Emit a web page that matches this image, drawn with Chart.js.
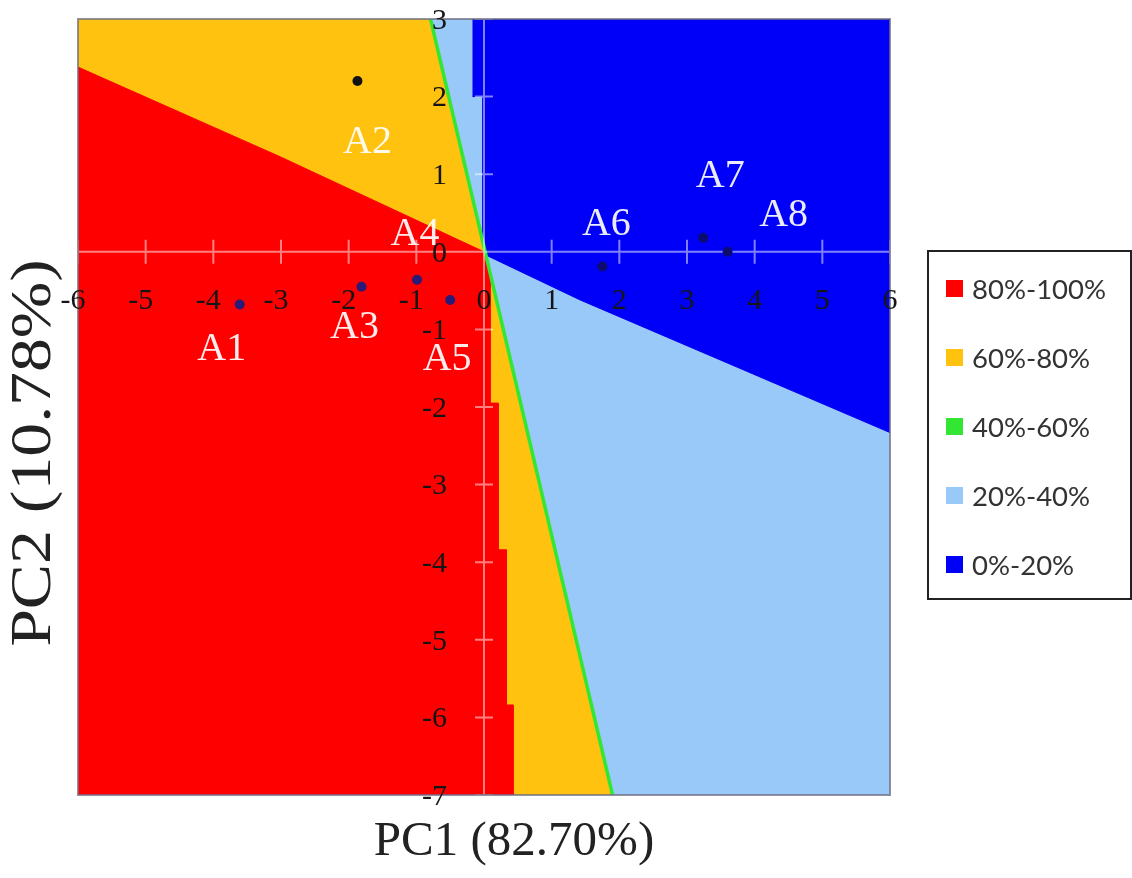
<!DOCTYPE html>
<html>
<head>
<meta charset="utf-8">
<title>PCA classification regions</title>
<script src="https://cdn.jsdelivr.net/npm/chart.js@4.4.1/dist/chart.umd.min.js"></script>
<style>
  body { margin: 0; background: #fff; }
  #wrap { position: relative; width: 1132px; height: 878px; }
  #legend { position: absolute; left: 927px; top: 250px; width: 201px; height: 344px; border: 2px solid #222;
            padding-top: 2px; box-sizing: content-box; font-family: Lato, sans-serif; font-size: 27.5px; color: #333; }
  #legend div { height: 69px; display: flex; align-items: center; }
  #legend span { display: inline-block; width: 17px; height: 17px; margin-left: 17px; margin-right: 9px; }
</style>
</head>
<body>
<div id="wrap">
  <canvas id="pca-regions"></canvas>
  <div id="legend"></div>
</div>
<script>
let xTicks = [-6, -5, -4, -3, -2, -1, 0, 1, 2, 3, 4, 5, 6];
let yTicks = [3, 2, 1, 0, -1, -2, -3, -4, -5, -6, -7];

let sampleNames = ["A1", "A2", "A3", "A4", "A5", "A6", "A7", "A8"];
let pc1Scores = [-3.61, -1.87, -1.81, -0.99, -0.50, 1.75, 3.24, 3.60];
let pc2Scores = [-0.68, 2.20, -0.45, -0.36, -0.62, -0.19, 0.18, 0.00];

// region outlines in score space [PC1, PC2]
let red80to100 = [[-6, 2.38], [-3, 1.22], [0, 0], [0.09, -0.35], [0.09, -1.95], [0.21, -1.95], [0.21, -3.84],
                  [0.33, -3.84], [0.33, -5.84], [0.43, -5.84], [0.43, -7], [-6, -7]];
let yellow60to80 = [[-6, 3], [-0.79, 3], [1.9, -7], [-6, -7]];
let green40to60 = [[-0.79, 3], [1.9, -7]];
let lightBlue20to40 = [[-0.79, 3], [6, 3], [6, -7], [1.9, -7]];
let blue0to20 = [[-0.17, 3], [6, 3], [6, -2.33], [3, -1.21], [1.42, -0.62], [0, -0.03], [-0.02, 0.05],
                 [-0.02, 2.0], [-0.17, 2.0]];

let legendLabels = ["80%-100%", "60%-80%", "40%-60%", "20%-40%", "0%-20%"];

// styling only
let regionColors = ["#ff0000", "#ffc20e", "#33e633", "#99c9f8", "#0000f8"];
let sampleColors = ["#2b1a78", "#111111", "#2b1a78", "#2b1a78", "#2b1a78", "#0c0c70", "#0c0c70", "#0c0c70"];
let labelOffsets = [[-18, 45], [10, 61], [-7, 41], [-2, -45], [-3, 60], [4, -42], [17, -61], [56, -36]];

const toXY = pts => pts.map(p => ({x: p[0], y: p[1]}));

function region(label, pts, color, order) {
  return {
    label: label,
    data: toXY(pts),
    showLine: true,
    fill: 'shape',
    backgroundColor: color,
    borderColor: color,
    borderWidth: 1,
    pointRadius: 0,
    order: order
  };
}

const pcaDecor = {
  id: 'pcaDecor',
  afterDatasetDraw(chart, args) {
    if (args.index !== 2) return; // zero axes go over the regions, under the samples
    const {ctx, chartArea: a, scales: {x, y}} = chart;
    const x0 = x.getPixelForValue(0), y0 = y.getPixelForValue(0);
    ctx.save();
    ctx.strokeStyle = 'rgba(255,255,255,0.5)';
    ctx.lineWidth = 2;
    ctx.beginPath();
    ctx.moveTo(a.left, y0); ctx.lineTo(a.right, y0);
    ctx.moveTo(x0, a.top); ctx.lineTo(x0, a.bottom);
    xTicks.forEach(v => { const px = x.getPixelForValue(v); ctx.moveTo(px, y0 - 12); ctx.lineTo(px, y0 + 12); });
    yTicks.forEach(v => { const py = y.getPixelForValue(v); ctx.moveTo(x0 - 9, py); ctx.lineTo(x0 + 9, py); });
    ctx.stroke();
    ctx.restore();
  },
  afterDraw(chart) {
    const {ctx, chartArea: a, scales: {x, y}} = chart;
    const x0 = x.getPixelForValue(0), y0 = y.getPixelForValue(0);
    ctx.save();

    ctx.strokeStyle = 'rgba(110,110,130,0.75)';
    ctx.lineWidth = 2;
    ctx.strokeRect(a.left, a.top, a.right - a.left, a.bottom - a.top);

    // tick labels sit beside the zero axes
    ctx.font = '30px "Liberation Serif"';
    ctx.fillStyle = '#151515';
    ctx.textBaseline = 'middle';
    ctx.textAlign = 'left';
    xTicks.forEach(v => {
      const t = String(v), digits = String(Math.abs(v));
      const px = x.getPixelForValue(v);
      const w = ctx.measureText(t).width, dw = ctx.measureText(digits).width;
      ctx.fillText(t, px - dw / 2 - (w - dw), y0 + 49);
    });
    ctx.textAlign = 'right';
    yTicks.forEach(v => ctx.fillText(String(v), x0 - 37, y.getPixelForValue(v) + 2));

    ctx.font = '40px "Liberation Serif"';
    ctx.fillStyle = 'rgba(255,255,255,0.92)';
    ctx.textAlign = 'center';
    sampleNames.forEach((n, i) => {
      ctx.fillText(n, x.getPixelForValue(pc1Scores[i]) + labelOffsets[i][0],
                      y.getPixelForValue(pc2Scores[i]) + labelOffsets[i][1]);
    });

    ctx.fillStyle = '#222';
    ctx.textBaseline = 'alphabetic';
    ctx.font = '49px "Liberation Serif"';
    ctx.fillText('PC1 (82.70%)', (a.left + a.right) / 2 + 30, a.bottom + 60);
    ctx.translate(a.left - 28, (a.top + a.bottom) / 2 + 46);
    ctx.rotate(-Math.PI / 2);
    ctx.scale(1.21, 1); // the y title is drawn stretched along its length in the figure
    ctx.font = '56px "Liberation Serif"';
    ctx.fillText('PC2 (10.78%)', 0, 0);
    ctx.restore();
  }
};

new Chart(document.getElementById('pca-regions'), {
  type: 'scatter',
  data: {
    datasets: [
      region(legendLabels[0], red80to100, regionColors[0], 2),
      region(legendLabels[1], yellow60to80, regionColors[1], 3),
      {label: legendLabels[2], data: toXY(green40to60), showLine: true, fill: false,
       borderColor: regionColors[2], borderWidth: 3.5, pointRadius: 0, order: 1},
      region(legendLabels[3], lightBlue20to40, regionColors[3], 5),
      region(legendLabels[4], blue0to20, regionColors[4], 4),
      {label: 'samples', data: pc1Scores.map((v, i) => ({x: v, y: pc2Scores[i]})),
       pointRadius: 5, pointBackgroundColor: sampleColors, pointBorderWidth: 0, order: 0}
    ]
  },
  options: {
    responsive: true,
    maintainAspectRatio: false,
    animation: false,
    layout: {padding: {left: 78, top: 19, right: 242, bottom: 83}},
    scales: {
      x: {type: 'linear', min: -6, max: 6, display: false},
      y: {type: 'linear', min: -7, max: 3, display: false}
    },
    plugins: {
      legend: {display: false},
      tooltip: {enabled: false}
    }
  },
  plugins: [pcaDecor]
});

// legend box on the right
document.getElementById('legend').innerHTML = legendLabels
  .map((l, i) => `<div><span style="background:${regionColors[i]}"></span>${l}</div>`).join('');
</script>
</body>
</html>
